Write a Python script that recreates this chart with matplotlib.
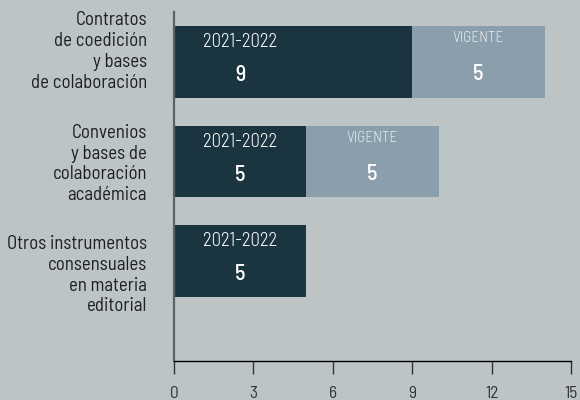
import matplotlib.pyplot as plt

categories = [
    "Contratos\nde coedición\ny bases\nde colaboración",
    "Convenios\ny bases de\ncolaboración\nacadémica",
    "Otros instrumentos\nconsensuales\nen materia\neditorial",
]
periodo = [9, 5, 5]
vigente = [5, 5, 0]
xticks = [0, 3, 6, 9, 12, 15]

bg = "#bcc4c6"
dark = "#1b3540"
light = "#8a9eab"

plt.rcParams["font.family"] = ["Barlow Semi Condensed", "DejaVu Sans"]

fig = plt.figure(figsize=(5.8, 4), dpi=100, facecolor=bg)
ax = fig.add_axes([174 / 580, 1 - 361 / 400, 397 / 580, 349 / 400])
ax.set_facecolor(bg)

y = list(range(len(categories)))
ax.barh(y, periodo, height=0.72, color=dark)
ax.barh(y, vigente, left=periodo, height=0.72, color=light)

ax.set_xlim(0, 15)
ax.set_ylim(3.0, -0.5)
ax.set_xticks(xticks)
ax.set_xticklabels([str(t) for t in xticks], fontsize=12.5, color="#333333")
ax.tick_params(axis="x", length=9, width=1, color="#333333", pad=9)
ax.set_yticks([])

for s in ["top", "right"]:
    ax.spines[s].set_visible(False)
ax.spines["left"].set_color("#5a6466")
ax.spines["left"].set_linewidth(1.6)
ax.spines["bottom"].set_color("black")
ax.spines["bottom"].set_linewidth(1)

# category labels, nudged to match the layout
nudge = [-0.105, 0.025, 0.14]
for i, lab in enumerate(categories):
    ax.text(-27 / 26.47, i + nudge[i], lab, ha="right", va="center",
            fontsize=13.5, color="#1e1e1e", linespacing=1.2)

for i in range(len(categories)):
    if periodo[i] > 0:
        cx = min(periodo[i], 5) / 2
        ax.text(cx, i - 0.2, "2021-2022", ha="center", va="center",
                fontsize=13.5, color="white", fontweight=300)
        ax.text(cx, i + 0.13, str(periodo[i]), ha="center", va="center",
                fontsize=16, color="white", fontweight=500)
    if vigente[i] > 0:
        cx = periodo[i] + vigente[i] / 2
        ax.text(cx, i - 0.24, "VIGENTE", ha="center", va="center",
                fontsize=11, color="#e4eaee", fontweight=300)
        ax.text(cx, i + 0.12, str(vigente[i]), ha="center", va="center",
                fontsize=16, color="white", fontweight=500)

fig.savefig("out.png", dpi=100, facecolor=bg)
